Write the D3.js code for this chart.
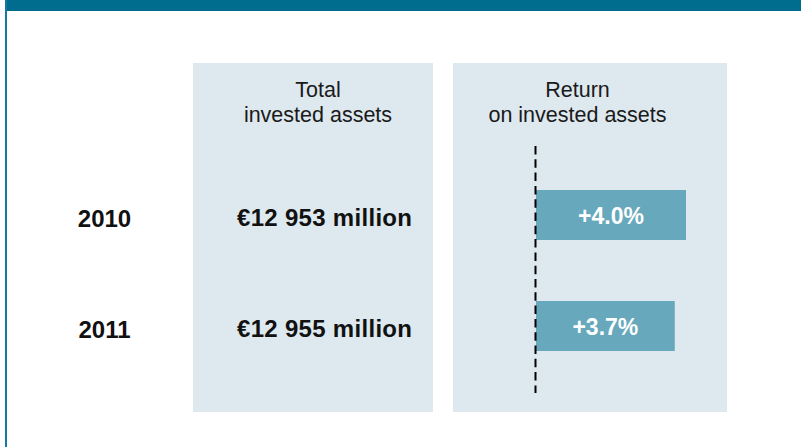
<!DOCTYPE html>
<html>
<head>
<meta charset="utf-8">
<script src="https://cdn.jsdelivr.net/npm/d3@7"></script>
<style>
  html, body { margin: 0; padding: 0; background: #fff; }
  svg { display: block; }
  text { font-family: "Liberation Sans", Arial, sans-serif; }
</style>
</head>
<body>
<svg id="chart" width="801" height="447"></svg>
<script>
// ---- data ----
const years = ["2010", "2011"];
const investedAssets = ["€12 953 million", "€12 955 million"];
const returns = [4.0, 3.7];
const returnLabels = ["+4.0%", "+3.7%"];
const header1 = ["Total", "invested assets"];
const header2 = ["Return", "on invested assets"];

// ---- layout ----
const W = 801, H = 447;
const svg = d3.select("#chart");
const frameColor = "#006d8e";
const panelColor = "#dde8ef";
const barColor = "#67a8bd";

// frame
svg.append("rect").attr("x", 0).attr("y", 0).attr("width", W).attr("height", H).attr("fill", "#fff");
svg.append("rect").attr("x", 5).attr("y", 0).attr("width", W - 5).attr("height", 11).attr("fill", frameColor);
svg.append("rect").attr("x", 5).attr("y", 0).attr("width", 2).attr("height", H).attr("fill", "#1478a0");

// panels
svg.append("rect").attr("x", 193).attr("y", 63).attr("width", 240).attr("height", 349).attr("fill", panelColor);
svg.append("rect").attr("x", 453).attr("y", 63).attr("width", 274).attr("height", 349).attr("fill", panelColor);

// headers
function header(lines, cx) {
  const t = svg.append("text").attr("text-anchor", "middle").attr("font-size", 21.5).attr("fill", "#1a1a1a");
  lines.forEach((l, i) => t.append("tspan").attr("x", cx).attr("y", 97 + i * 25).text(l));
}
header(header1, 318);
header(header2, 577.5);

// scales
const y = d3.scalePoint().domain(years).range([215, 326]);
const barH = 50;
const x = d3.scaleLinear().domain([0, 4.0]).range([536, 686]);

// year labels
svg.selectAll(".year").data(years).join("text")
  .attr("class", "year")
  .attr("x", 104.5).attr("y", d => y(d) + 11.5)
  .attr("text-anchor", "middle")
  .attr("font-size", 24).attr("font-weight", "bold").attr("fill", "#111")
  .text(d => d);

// invested assets labels
svg.selectAll(".assets").data(years).join("text")
  .attr("class", "assets")
  .attr("x", 237).attr("y", d => y(d) + 11)
  .attr("text-anchor", "start")
  .attr("font-size", 24).attr("font-weight", "bold").attr("fill", "#111")
  .attr("textLength", 175).attr("lengthAdjust", "spacing")
  .text((d, i) => investedAssets[i]);

// bars
svg.selectAll(".bar").data(years).join("rect")
  .attr("class", "bar")
  .attr("x", x(0))
  .attr("y", d => y(d) - barH / 2)
  .attr("width", (d, i) => x(returns[i]) - x(0))
  .attr("height", barH)
  .attr("fill", barColor);

svg.selectAll(".barlabel").data(years).join("text")
  .attr("class", "barlabel")
  .attr("x", (d, i) => (x(0) + x(returns[i])) / 2)
  .attr("y", d => y(d) + 9)
  .attr("text-anchor", "middle")
  .attr("font-size", 23).attr("font-weight", "bold").attr("fill", "#fff")
  .text((d, i) => returnLabels[i]);

// zero line
svg.append("line")
  .attr("x1", x(0) - 0.5).attr("x2", x(0) - 0.5)
  .attr("y1", 146).attr("y2", 393)
  .attr("stroke", "#000").attr("stroke-width", 2)
  .attr("stroke-dasharray", "8.5,4.8");
</script>
</body>
</html>
